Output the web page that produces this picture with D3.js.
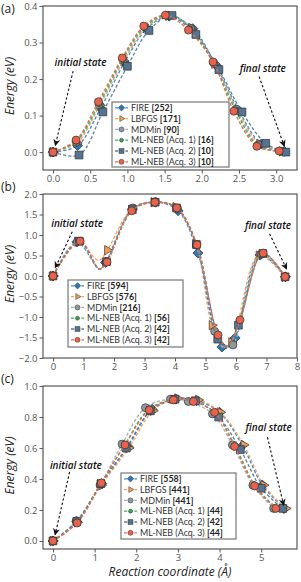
<!DOCTYPE html>
<html>
<head>
<meta charset="utf-8">
<script src="https://cdn.jsdelivr.net/npm/d3@7"></script>
<style>
  body { margin: 0; background: #fff; }
  text { font-family: "Open Sans", Lato, sans-serif; }
  .leg text { font-family: Lato, "Open Sans", sans-serif; }
</style>
</head>
<body>
<svg id="chart" width="301" height="582"></svg>
<script>
// methods and optimizer step counts shown in the legends
var methods = ["FIRE", "LBFGS", "MDMin", "ML-NEB (Acq. 1)", "ML-NEB (Acq. 2)", "ML-NEB (Acq. 3)"];
var counts_a = [252, 171, 90, 16, 10, 10];
var counts_b = [594, 576, 216, 56, 42, 42];
var counts_c = [558, 441, 441, 44, 42, 44];

// panel (a) images: reaction coordinate / energy, one row per method
var a_x = [
  [0, 0.33, 0.64, 0.96, 1.26, 1.56, 1.88, 2.19, 2.50, 2.80, 3.11],
  [0, 0.32, 0.63, 0.95, 1.25, 1.55, 1.86, 2.17, 2.48, 2.78, 3.08],
  [0, 0.31, 0.62, 0.94, 1.24, 1.54, 1.85, 2.16, 2.46, 2.76, 3.07],
  [0, 0.31, 0.62, 0.93, 1.23, 1.53, 1.84, 2.15, 2.45, 2.75, 3.06],
  [0, 0.35, 0.67, 1.00, 1.29, 1.60, 1.92, 2.23, 2.54, 2.86, 3.13],
  [0, 0.31, 0.61, 0.93, 1.22, 1.51, 1.82, 2.15, 2.43, 2.74, 3.04]
];
var a_E = [
  [0, 0.018, 0.120, 0.245, 0.338, 0.372, 0.338, 0.238, 0.113, 0.022, 0.002],
  [0, 0.025, 0.128, 0.250, 0.340, 0.373, 0.340, 0.242, 0.115, 0.022, 0.002],
  [0, 0.028, 0.130, 0.252, 0.342, 0.374, 0.338, 0.245, 0.118, 0.020, 0.002],
  [0, 0.030, 0.133, 0.254, 0.343, 0.374, 0.337, 0.246, 0.116, 0.018, 0.002],
  [0, -0.008, 0.110, 0.235, 0.333, 0.374, 0.322, 0.226, 0.110, 0.024, 0.000],
  [0, 0.033, 0.138, 0.258, 0.345, 0.375, 0.334, 0.247, 0.112, 0.016, 0.003]
];

// panel (b) images
var b_x = [
  [0, 0.78, 1.72, 2.60, 3.36, 4.10, 4.75, 5.54, 5.97, 6.79, 7.62],
  [0, 0.80, 1.78, 2.57, 3.30, 4.02, 4.68, 5.21, 5.85, 6.75, 7.60],
  [0, 0.80, 1.75, 2.62, 3.35, 4.08, 4.70, 5.30, 5.90, 6.82, 7.61],
  [0, 0.87, 1.76, 2.59, 3.34, 4.06, 4.72, 5.40, 6.10, 6.87, 7.61],
  [0, 0.86, 1.75, 2.60, 3.35, 4.05, 4.70, 5.40, 6.08, 6.88, 7.61],
  [0, 0.89, 1.77, 2.58, 3.34, 4.06, 4.72, 5.41, 6.13, 6.89, 7.61]
];
var b_E = [
  [0, 0.83, 0.33, 1.63, 1.80, 1.59, 0.56, -1.73, -1.51, 0.51, -0.02],
  [0, 0.84, 0.63, 1.62, 1.80, 1.68, 0.80, -1.20, -1.62, 0.50, -0.02],
  [0, 0.84, 0.35, 1.66, 1.81, 1.65, 0.75, -1.35, -1.68, 0.53, -0.02],
  [0, 0.85, 0.34, 1.60, 1.80, 1.66, 0.76, -1.45, -1.10, 0.55, -0.02],
  [0, 0.85, 0.35, 1.62, 1.80, 1.66, 0.77, -1.54, -1.20, 0.55, -0.02],
  [0, 0.85, 0.34, 1.59, 1.80, 1.66, 0.76, -1.44, -1.07, 0.56, -0.02]
];
// fitted band in (b) dips between images: first well and deep well
var b_dipX = [1.52, 1.50, 1.53, 1.52, 1.52, 1.52];
var b_dipE = [0.17, 0.38, 0.17, 0.17, 0.17, 0.17];
var b_wellX = [5.72, 5.58, 5.64, 5.72, 5.70, 5.72];
var b_wellE = [-1.76, -1.74, -1.74, -1.72, -1.72, -1.70];

// panel (c) images
var c_x = [
  [0, 0.57, 1.17, 1.80, 2.38, 2.95, 3.45, 4.00, 4.55, 5.03, 5.55],
  [0, 0.58, 1.16, 1.82, 2.40, 2.99, 3.49, 4.02, 4.58, 5.06, 5.59],
  [0, 0.56, 1.13, 1.66, 2.22, 2.82, 3.25, 3.83, 4.31, 4.80, 5.30],
  [0, 0.57, 1.15, 1.72, 2.30, 2.88, 3.36, 3.88, 4.38, 4.86, 5.38],
  [0, 0.57, 1.15, 1.76, 2.34, 2.93, 3.42, 3.98, 4.50, 5.00, 5.52],
  [0, 0.58, 1.16, 1.73, 2.31, 2.89, 3.37, 3.88, 4.36, 4.84, 5.35]
];
var c_E = [
  [0, 0.125, 0.370, 0.610, 0.850, 0.915, 0.905, 0.830, 0.615, 0.360, 0.21],
  [0, 0.120, 0.360, 0.600, 0.840, 0.920, 0.910, 0.830, 0.620, 0.360, 0.21],
  [0, 0.130, 0.360, 0.625, 0.860, 0.915, 0.900, 0.820, 0.620, 0.360, 0.21],
  [0, 0.120, 0.370, 0.620, 0.850, 0.910, 0.900, 0.830, 0.610, 0.355, 0.21],
  [0, 0.125, 0.370, 0.600, 0.840, 0.915, 0.905, 0.800, 0.590, 0.340, 0.21],
  [0, 0.116, 0.374, 0.620, 0.845, 0.910, 0.900, 0.830, 0.610, 0.355, 0.21]
];

// tick labels
var a_xTicks = [0, 0.5, 1, 1.5, 2, 2.5, 3];
var a_yTicks = [0, 0.1, 0.2, 0.3, 0.4];
var b_xTicks = [0, 1, 2, 3, 4, 5, 6, 7, 8];
var b_yTicks = [-2, -1.5, -1, -0.5, 0, 0.5, 1, 1.5, 2];
var c_xTicks = [0, 1, 2, 3, 4, 5];
var c_yTicks = [0, 0.2, 0.4, 0.6, 0.8, 1.0];

var fill_colors = ["#2b78b7", "#f39b50", "#8e9aa2", "#36a853", "#537591", "#e9624b"];
var line_colors = ["#3a8bd2", "#f5a057", "#a4aeb5", "#3db357", "#5c7f9c", "#ec6a51"];
var shapes = ["diamond", "triangle", "circle", "circle", "square", "circle"];
var marker_area = [50, 38, 50, 30, 60, 50];
var edge = "#2f2f2f";
var axis_gray = "#555";

var svg = d3.select("#chart");

var L = 43, R = 297;

var panels = [
  { label: "(a)", labelY: 13, top: 6, bottom: 170, xd: [-0.135, 3.28], yd: [-0.049, 0.4],
    xs: a_x, es: a_E, counts: counts_a, xt: a_xTicks, yt: a_yTicks, xf: ".1f", yf: ".1f",
    legend: { x: 112, y: 102, w: 117, h: 65 },
    init: { tx: 0.37, ty: 0.245, x1: 0.27, y1: 0.222, x2: 0.03, y2: 0.018 },
    fin: { tx: 2.82, ty: 0.23, x1: 2.77, y1: 0.207, x2: 3.11, y2: 0.016 } },
  { label: "(b)", labelY: 191, top: 194, bottom: 358, xd: [-0.33, 8.0], yd: [-2, 2],
    xs: b_x, es: b_E, counts: counts_b, xt: b_xTicks, yt: b_yTicks, xf: "d", yf: ".1f",
    legend: { x: 68, y: 280, w: 115, h: 67 },
    init: { tx: 0.79, ty: 1.27, x1: 0.63, y1: 1.08, x2: 0.07, y2: 0.2 },
    fin: { tx: 7.05, ty: 1.22, x1: 7.1, y1: 1.03, x2: 7.66, y2: 0.17 } },
  { label: "(c)", labelY: 383, top: 386, bottom: 549, xd: [-0.24, 5.86], yd: [-0.052, 1.0],
    xs: c_x, es: c_E, counts: counts_c, xt: c_xTicks, yt: c_yTicks, xf: "d", yf: ".1f",
    legend: { x: 121, y: 473, w: 115, h: 66 },
    init: { tx: 0.55, ty: 0.49, x1: 0.4, y1: 0.445, x2: 0.05, y2: 0.04 },
    fin: { tx: 5.18, ty: 0.73, x1: 5.15, y1: 0.67, x2: 5.54, y2: 0.23 } }
];

// arrow head
svg.append("defs").append("marker")
  .attr("id", "head")
  .attr("viewBox", "0 0 10 10")
  .attr("refX", 9).attr("refY", 5)
  .attr("markerWidth", 7).attr("markerHeight", 7)
  .attr("markerUnits", "userSpaceOnUse")
  .attr("orient", "auto")
  .append("path").attr("d", "M0,0 L10,5 L0,10 L3,5 Z").attr("fill", "#111");

function symbolFor(i, scale) {
  var type = { diamond: d3.symbolSquare, triangle: d3.symbolTriangle,
               circle: d3.symbolCircle, square: d3.symbolSquare }[shapes[i]];
  return d3.symbol().type(type).size(marker_area[i] * scale)();
}
function rotFor(i) {
  return shapes[i] == "diamond" ? 45 : (shapes[i] == "triangle" ? 90 : 0);
}

panels.forEach(function(p, pi) {
  var x = d3.scaleLinear().domain(p.xd).range([L, R]);
  var y = d3.scaleLinear().domain(p.yd).range([p.bottom, p.top]);
  var g = svg.append("g");

  // axes
  var xAxis = d3.axisBottom(x).tickValues(p.xt).tickFormat(d3.format(p.xf)).tickSize(3.5).tickPadding(2);
  var yAxis = d3.axisLeft(y).tickValues(p.yt).tickFormat(d3.format(p.yf)).tickSize(3.5).tickPadding(2);
  var gx = g.append("g").attr("transform", "translate(0," + p.bottom + ")").call(xAxis);
  var gy = g.append("g").attr("transform", "translate(" + L + ",0)").call(yAxis);
  [gx, gy].forEach(function(a) {
    a.select(".domain").remove();
    a.selectAll("line").attr("stroke", axis_gray);
    a.selectAll("text").attr("fill", axis_gray).style("font-size", "9.5px");
  });
  gy.selectAll("text").text(function(d) { return d3.format(p.yf)(d).replace("-", "\u2212"); });

  // series
  var line = d3.line().x(function(d) { return x(d[0]); }).y(function(d) { return y(d[1]); })
    .curve(d3.curveCatmullRom.alpha(0.5));
  for (var i = 0; i < methods.length; i++) {
    var pts = p.xs[i].map(function(v, k) { return [v, p.es[i][k]]; });
    var curvePts = pts.slice();
    if (pi == 1) {
      curvePts.push([b_dipX[i], b_dipE[i]]);
      curvePts.push([b_wellX[i], b_wellE[i]]);
      curvePts.sort(function(a, b) { return a[0] - b[0]; });
    }
    g.append("path").datum(curvePts)
      .attr("d", line)
      .attr("fill", "none")
      .attr("stroke", line_colors[i])
      .attr("stroke-width", 1.3)
      .attr("stroke-dasharray", "3.2,2");
    g.selectAll(null).data(pts).enter().append("path")
      .attr("d", symbolFor(i, 1))
      .attr("transform", function(d) { return "translate(" + x(d[0]) + "," + y(d[1]) + ") rotate(" + rotFor(i) + ")"; })
      .attr("fill", fill_colors[i])
      .attr("stroke", edge)
      .attr("stroke-width", 0.7);
  }

  // frame
  g.append("rect").attr("x", L).attr("y", p.top).attr("width", R - L).attr("height", p.bottom - p.top)
    .attr("fill", "none").attr("stroke", axis_gray).attr("stroke-width", 1.2);

  // annotations
  [[p.init, "initial state"], [p.fin, "final state"]].forEach(function(a) {
    var s = a[0];
    g.append("text").attr("x", x(s.tx)).attr("y", y(s.ty)).attr("text-anchor", "middle")
      .attr("dy", "0.35em")
      .style("font-size", "10px").style("font-style", "italic").style("font-weight", "600")
      .attr("fill", "#111").text(a[1]);
    g.append("line").attr("x1", x(s.x1)).attr("y1", y(s.y1)).attr("x2", x(s.x2)).attr("y2", y(s.y2))
      .attr("stroke", "#111").attr("stroke-width", 1.1).attr("stroke-dasharray", "2.5,2")
      .attr("marker-end", "url(#head)");
  });

  // legend
  var lg = g.append("g").attr("class", "leg").attr("transform", "translate(" + p.legend.x + "," + p.legend.y + ")");
  lg.append("rect").attr("width", p.legend.w).attr("height", p.legend.h)
    .attr("fill", "#fff").attr("stroke", "#777").attr("stroke-width", 1.2);
  methods.forEach(function(m, i) {
    var ry = 5.8 + i * 10.8;
    lg.append("line").attr("x1", 3).attr("x2", 16).attr("y1", ry).attr("y2", ry)
      .attr("stroke", line_colors[i]).attr("stroke-width", 1.3).attr("stroke-dasharray", "3.2,2");
    lg.append("path").attr("d", symbolFor(i, 0.4))
      .attr("transform", "translate(9.5," + ry + ") rotate(" + rotFor(i) + ")")
      .attr("fill", fill_colors[i]).attr("stroke", edge).attr("stroke-width", 0.5);
    var t = lg.append("text").attr("x", 19).attr("y", ry).attr("dy", "0.35em")
      .style("font-size", "8.9px").attr("fill", "#333");
    t.append("tspan").text(m + " ");
    t.append("tspan").style("font-weight", "bold").attr("fill", "#222").text("[" + p.counts[i] + "]");
  });

  // panel label and y title
  svg.append("text").attr("x", 1).attr("y", p.labelY).style("font-size", "12px").attr("fill", "#222").text(p.label);
  svg.append("text").attr("transform", "translate(14," + ((p.top + p.bottom) / 2 - 2) + ") rotate(-90)")
    .attr("text-anchor", "middle").style("font-size", "12px").style("font-style", "italic")
    .attr("fill", "#222").text("Energy (eV)");
});

svg.append("text").attr("x", 170).attr("y", 576).attr("text-anchor", "middle")
  .style("font-size", "12px").style("font-style", "italic").attr("fill", "#222")
  .text("Reaction coordinate (\u00c5)");
</script>
</body>
</html>
